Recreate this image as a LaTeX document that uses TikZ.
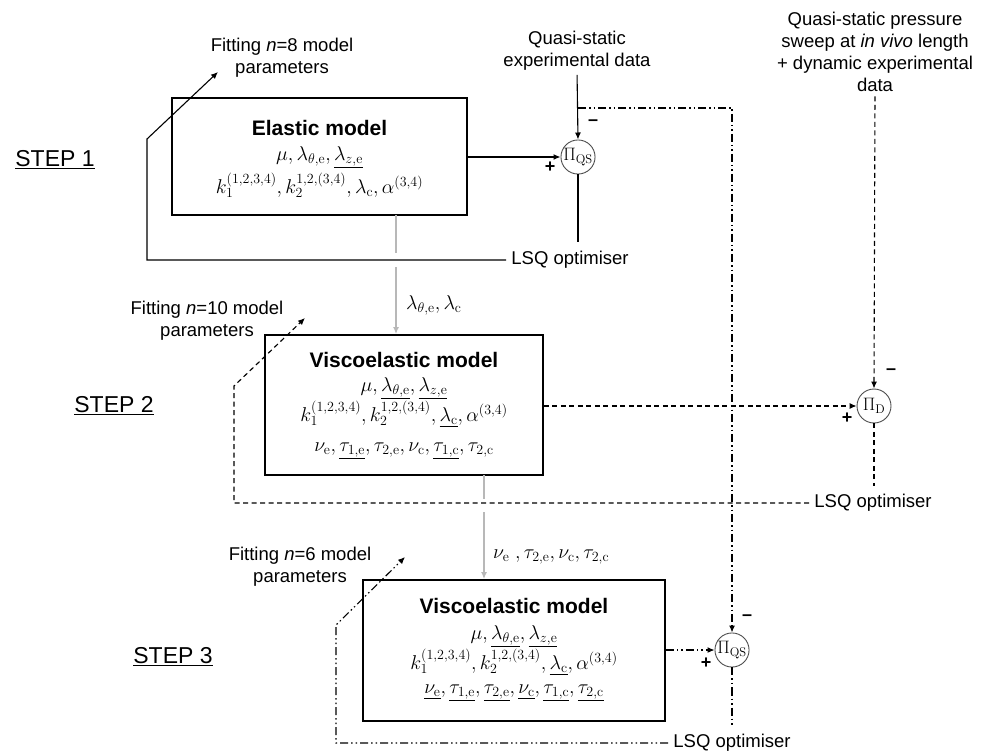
\RequirePackage{fix-cm}
\documentclass[tikz,border=0pt]{standalone}
\usepackage[no-math]{fontspec}
\setmainfont{Liberation Sans}
\usetikzlibrary{arrows.meta}
\DeclareMathSizes{20}{20}{14}{10.5}
\DeclareMathSizes{18}{18}{12.6}{9}
\tikzset{
  sans/.style={font=\fontsize{18.5}{22}\selectfont, align=center, inner sep=0pt},
  lsqlab/.style={font=\fontsize{18.5}{22}\selectfont, inner sep=5pt},
  mathtxt/.style={font=\fontsize{20}{24}\selectfont, inner sep=0pt},
  edgelab/.style={font=\fontsize{20}{24}\selectfont, inner sep=0pt, anchor=west},
  titletxt/.style={font=\fontsize{21}{25}\selectfont\bfseries, inner sep=0pt},
  steplab/.style={font=\fontsize{23}{27}\selectfont, inner sep=0pt},
  modelbox/.style={draw, line width=1.8pt, inner sep=0pt},
  sumnode/.style={circle, draw=black!70, line width=0.9pt, minimum size=34pt, inner sep=0pt, font=\fontsize{18}{20}\selectfont},
  conn/.style={line width=1.1pt},
  tip/.style={-{Latex[length=7pt,width=6pt]}},
  gconn/.style={line width=1.5pt, draw=black!28},
  dashedl/.style={dash pattern=on 5pt off 3.5pt},
  ddot/.style={dash pattern=on 8pt off 3pt on 1.5pt off 3pt on 1.5pt off 3pt},
  sgn/.style={font=\fontsize{18}{18}\selectfont\bfseries, inner sep=0pt}
}
\begin{document}
\begin{tikzpicture}[x=1pt,y=-1pt]
\useasboundingbox (0,0) rectangle (988,754);

% ---------- boxes ----------
\node[modelbox, minimum width=295pt, minimum height=117pt] (b1) at (319.5,156.5) {};
\node[titletxt] (b1t) at (319.5,128) {Elastic model};
\node[mathtxt] (b1a) at (319.5,157) {$\mu, \lambda_{\theta,\mathrm{e}}, \underline{\lambda_{z,\mathrm{e}}}$};
\node[mathtxt] (b1b) at (319.5,185) {$k_1^{(1,2,3,4)}, k_2^{1,2,(3,4)}, \lambda_{\mathrm{c}}, \alpha^{(3,4)}$};

\node[modelbox, minimum width=278pt, minimum height=140pt] (b2) at (404,405) {};
\node[titletxt] (b2t) at (404,360) {Viscoelastic model};
\node[mathtxt] (b2a) at (404,388) {$\mu, \underline{\lambda_{\theta,\mathrm{e}}}, \underline{\lambda_{z,\mathrm{e}}}$};
\node[mathtxt] (b2b) at (404,414) {$k_1^{(1,2,3,4)}, k_2^{1,2,(3,4)}, \underline{\lambda_{\mathrm{c}}}, \alpha^{(3,4)}$};
\node[mathtxt] (b2c) at (404,451) {$\nu_{\mathrm{e}}, \underline{\tau_{1,\mathrm{e}}}, \tau_{2,\mathrm{e}}, \nu_{\mathrm{c}}, \underline{\tau_{1,\mathrm{c}}}, \tau_{2,\mathrm{c}}$};

\node[modelbox, minimum width=302pt, minimum height=141pt] (b3) at (514,650.5) {};
\node[titletxt] (b3t) at (514,606) {Viscoelastic model};
\node[mathtxt] (b3a) at (514,636) {$\mu, \underline{\lambda_{\theta,\mathrm{e}}}, \underline{\lambda_{z,\mathrm{e}}}$};
\node[mathtxt] (b3b) at (514,662) {$k_1^{(1,2,3,4)}, k_2^{1,2,(3,4)}, \underline{\lambda_{\mathrm{c}}}, \alpha^{(3,4)}$};
\node[mathtxt] (b3c) at (514,693) {$\underline{\nu_{\mathrm{e}}}, \underline{\tau_{1,\mathrm{e}}}, \underline{\tau_{2,\mathrm{e}}}, \underline{\nu_{\mathrm{c}}}, \underline{\tau_{1,\mathrm{c}}}, \underline{\tau_{2,\mathrm{c}}}$};

% ---------- summing nodes ----------
\node[sumnode] (s1) at (578,157) {$\Pi_{\mathrm{QS}}$};
\node[sumnode] (sD) at (874,406) {$\Pi_{\mathrm{D}}$};
\node[sumnode] (s3) at (732,650) {$\Pi_{\mathrm{QS}}$};

\node[sgn] (p1) at (550,167) {+};
\node[sgn] (m1) at (593,123) {–};
\node[sgn] (pD) at (847,418) {+};
\node[sgn] (mD) at (891,372) {–};
\node[sgn] (p3) at (706,663) {+};
\node[sgn] (m3) at (747,618) {–};

% ---------- texts ----------
\node[sans] (qs) at (577,51) {Quasi-static\\experimental data};
\node[sans] (qp) at (875,51.5) {Quasi-static pressure\\sweep at \textit{in vivo} length\\+ dynamic experimental\\data};
\node[lsqlab] (lsq1) at (570,260) {LSQ optimiser};
\node[lsqlab] (lsq2) at (873,503) {LSQ optimiser};
\node[lsqlab] (lsq3) at (732,743) {LSQ optimiser};
\node[sans] (fit1) at (282,58) {Fitting \textit{n}=8 model\\parameters};
\node[sans] (fit2) at (207,321) {Fitting \textit{n}=10 model\\parameters};
\node[sans] (fit3) at (300,566.5) {Fitting \textit{n}=6 model\\parameters};
\node[steplab] (st1) at (55,160) {\underline{STEP 1}};
\node[steplab] (st2) at (114,406) {\underline{STEP 2}};
\node[steplab] (st3) at (173,657) {\underline{STEP 3}};
\node[edgelab] (l12) at (406,305) {$\lambda_{\theta,\mathrm{e}}, \lambda_{\mathrm{c}}$};
\node[edgelab] (l23) at (493,557) {$\nu_{\mathrm{e}}\ , \tau_{2,\mathrm{e}}, \nu_{\mathrm{c}}, \tau_{2,\mathrm{c}}$};

% ---------- coordinates ----------
\coordinate (j1) at (578,108);
\coordinate (c1) at (732,108);
\coordinate (e1) at (578,242);
\coordinate (eD) at (874,486);
\coordinate (e3) at (732,727);
\coordinate (f1b) at (147,139);
\coordinate (f1t) at (218,72);
\coordinate (f2b) at (234,386);
\coordinate (f2t) at (305,318);
\coordinate (f3b) at (336,625);
\coordinate (f3t) at (405,557);
\coordinate (g1a) at (396,215);
\coordinate (g1b) at (396,253);
\coordinate (g1c) at (396,267);
\coordinate (g2a) at (484,475);
\coordinate (g2b) at (484,499);
\coordinate (g2c) at (484,512);

% ---------- step 1 (solid) ----------
\draw[conn,tip,shorten <=4pt] (qs.south) -- (s1.north);
\draw[conn,tip] (b1.east |- s1.west) -- (s1.west);
\draw[conn] (s1.south) -- (e1);
\draw[conn,tip] (lsq1.west) -| (f1b) -- (f1t);

% ---------- step 2 (dashed) ----------
\draw[conn,dashedl,tip,shorten <=5pt] (qp.south) -- (sD.north);
\draw[conn,dashedl,tip] (b2.east |- sD.west) -- (sD.west);
\draw[conn,dashedl] (sD.south) -- (eD);
\draw[conn,dashedl,tip] (lsq2.west) -| (f2b) -- (f2t);

% ---------- step 3 (dash-dot-dot) ----------
\draw[conn,ddot,tip] (j1) -- (c1) -- (s3.north);
\draw[conn,ddot,tip] (b3.east |- s3.west) -- (s3.west);
\draw[conn,ddot] (s3.south) -- (e3);
\draw[conn,ddot,tip] (lsq3.west) -| (f3b) -- (f3t);

% ---------- parameter transfer (grey) ----------
\draw[gconn] (g1a) -- (g1b);
\draw[gconn,tip] (g1c) -- (g1c |- b2.north);
\draw[gconn] (g2a) -- (g2b);
\draw[gconn,tip] (g2c) -- (g2c |- b3.north);
\end{tikzpicture}
\end{document}
